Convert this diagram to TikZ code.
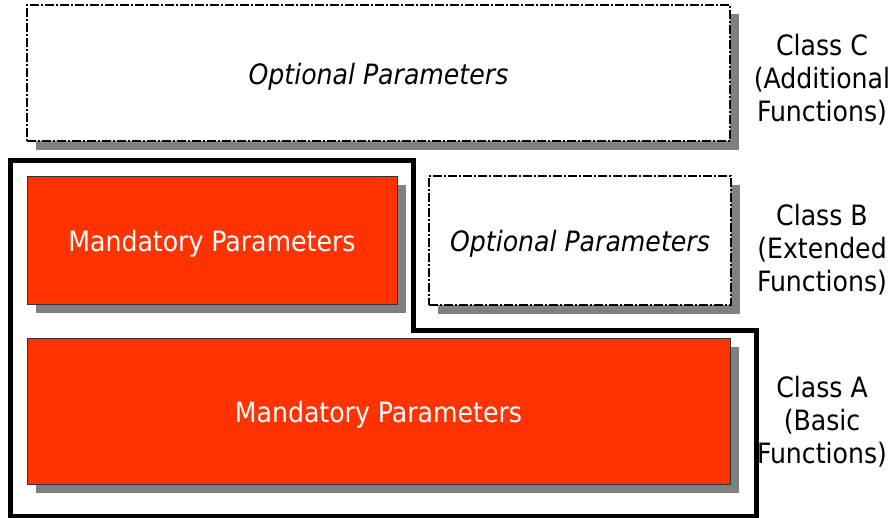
\documentclass[tikz,border=0pt]{standalone}
\usepackage{fontspec}
\setmainfont{DejaVu Sans Condensed}
\usetikzlibrary{shadows}
\definecolor{redfill}{HTML}{FF3300}
\definecolor{shadowgray}{HTML}{808080}
\newcommand{\lowtext}[1]{\raisebox{-3.5pt}[\height][\depth]{#1}}
\tikzset{
  myshadow/.style={drop shadow={shadow xshift=9pt,shadow yshift=-9pt,fill=shadowgray,opacity=1}},
  redbox/.style={myshadow,rectangle,fill=redfill,draw=black!80,line width=0.8pt,inner sep=0pt,
    text=white,font=\fontsize{28}{33}\selectfont},
  optbox/.style={myshadow,rectangle,fill=white,draw=black,line width=1.3pt,inner sep=0pt,
    dash pattern=on 9pt off 2pt on 2pt off 2pt,
    font=\fontsize{28}{33}\selectfont\itshape},
  classlabel/.style={align=center,font=\fontsize{28}{33}\selectfont,inner sep=0pt},
  frame/.style={line width=5pt,line join=miter}
}
\begin{document}
\begin{tikzpicture}[x=1pt,y=-1pt]
\useasboundingbox (0,0) rectangle (893,517);
\node[optbox,minimum width=703pt,minimum height=136pt] (optC) at (378.5,73) {\lowtext{Optional Parameters}};
\node[redbox,minimum width=370pt,minimum height=128pt] (manB) at (212,240) {\lowtext{Mandatory Parameters}};
\node[optbox,minimum width=302pt,minimum height=129pt] (optB) at (580,240.5) {\lowtext{Optional Parameters}};
\node[redbox,minimum width=703pt,minimum height=146pt] (manA) at (378.5,411) {\lowtext{Mandatory Parameters}};
\draw[frame] (10.5,160) -- (413,160) -- (413,330) -- (756,330) -- (756,516) -- (10.5,516) -- cycle;
\node[classlabel] (labC) at (822,80) {Class C\\(Additional\\Functions)};
\node[classlabel] (labB) at (822,250) {Class B\\(Extended\\Functions)};
\node[classlabel] (labA) at (822,422) {Class A\\(Basic\\Functions)};
\end{tikzpicture}
\end{document}
